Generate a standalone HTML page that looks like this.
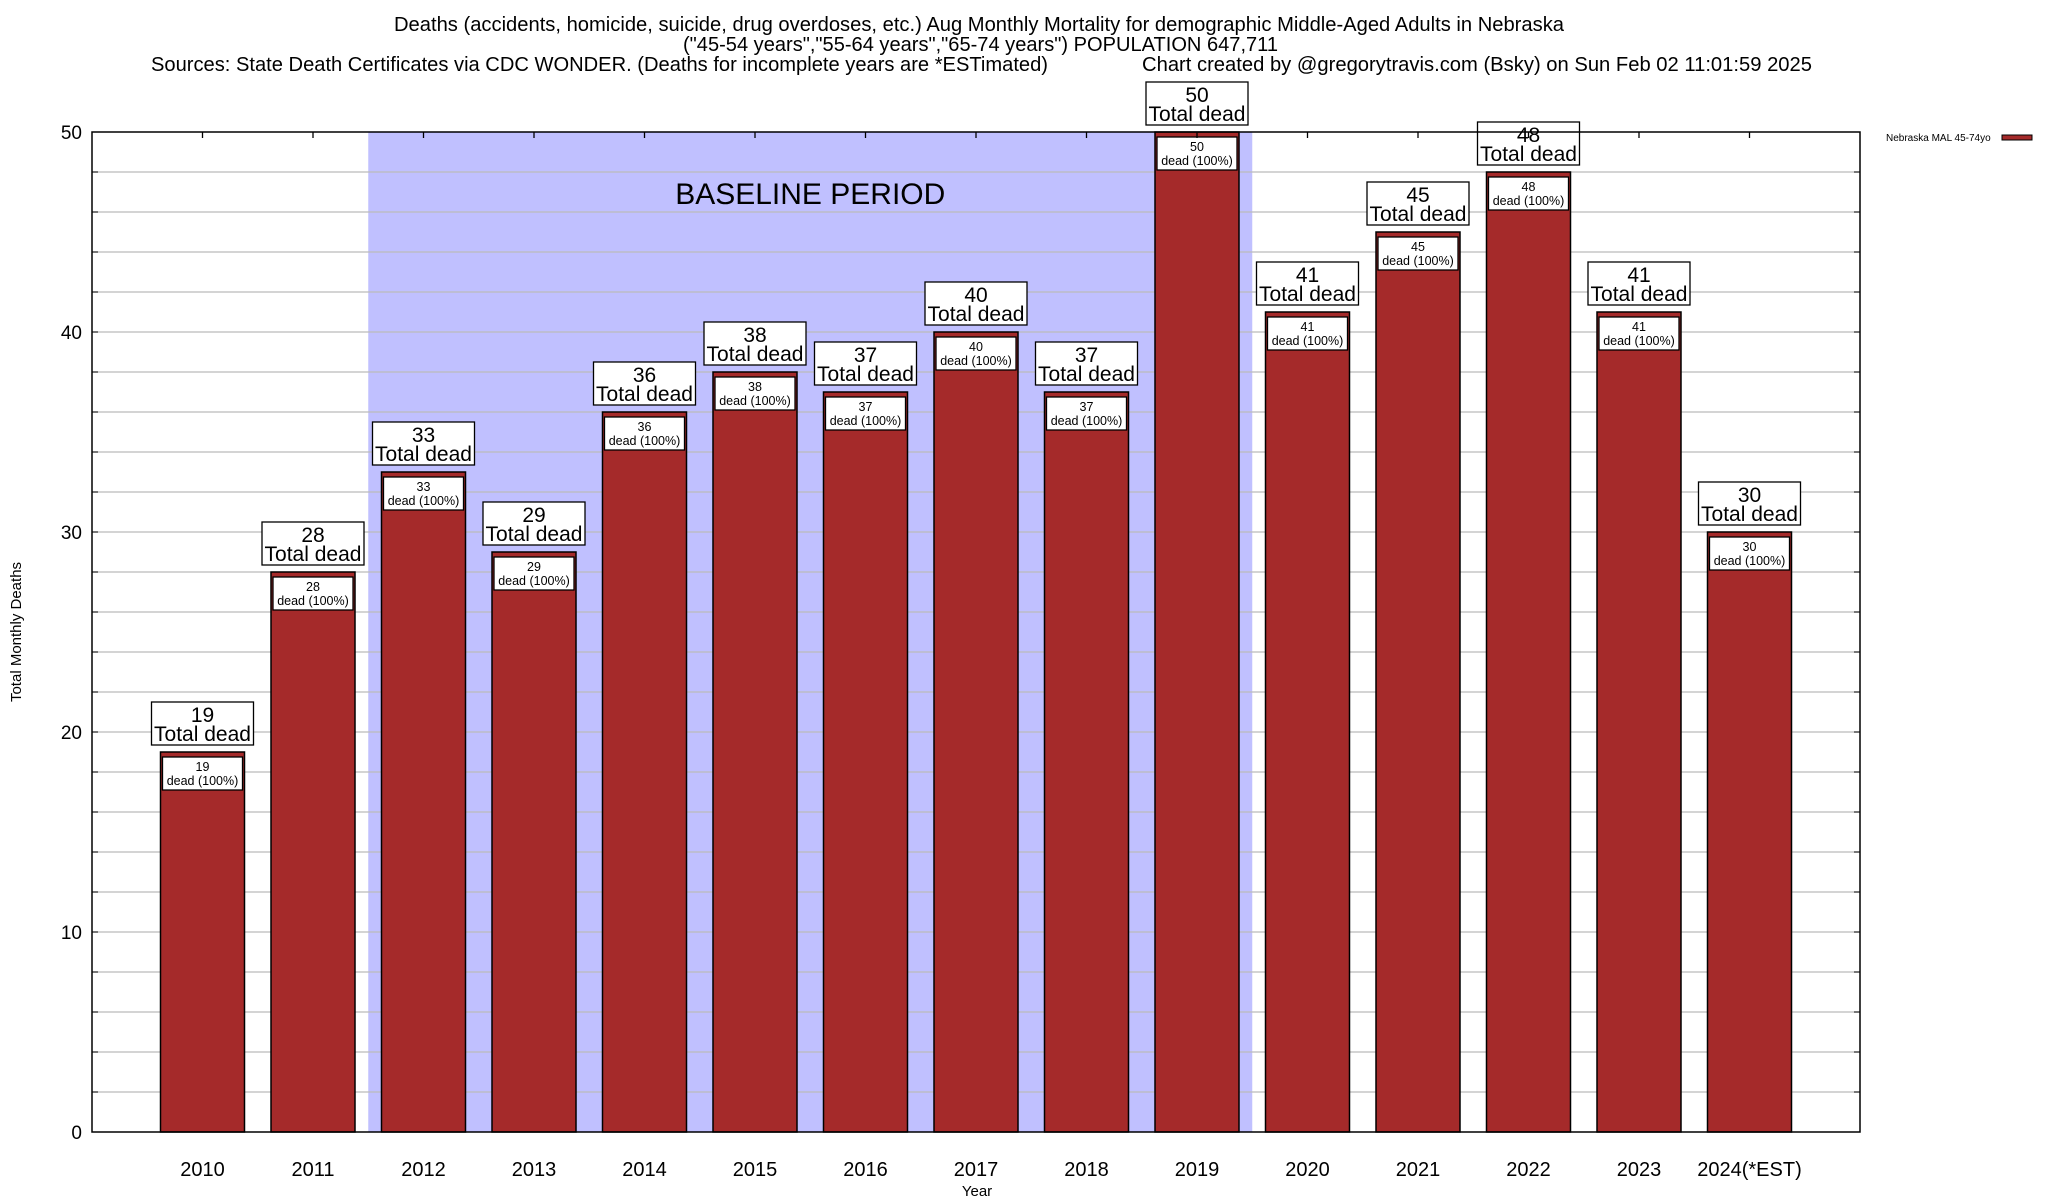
<!DOCTYPE html>
<html><head><meta charset="utf-8"><style>
html,body{margin:0;padding:0;background:#fff}
svg{display:block;font-family:"Liberation Sans",sans-serif}
</style></head><body>
<svg id="chart" width="2048" height="1200" viewBox="0 0 2048 1200" xmlns="http://www.w3.org/2000/svg">
<g font-size="20" fill="#000">
<text x="394" y="31" textLength="1170" lengthAdjust="spacingAndGlyphs">Deaths (accidents, homicide, suicide, drug overdoses, etc.) Aug Monthly Mortality for demographic Middle-Aged Adults in Nebraska</text>
<text x="683" y="51" textLength="595" lengthAdjust="spacingAndGlyphs">("45-54 years","55-64 years","65-74 years") POPULATION 647,711</text>
<text x="151" y="71" textLength="897" lengthAdjust="spacingAndGlyphs">Sources: State Death Certificates via CDC WONDER. (Deaths for incomplete years are *ESTimated)</text>
<text x="1142" y="71" textLength="670" lengthAdjust="spacingAndGlyphs">Chart created by @gregorytravis.com (Bsky) on Sun Feb 02 11:01:59 2025</text>
</g>
<g id="plot"></g>
</svg>
<script>
const categories=["2010","2011","2012","2013","2014","2015","2016","2017","2018","2019","2020","2021","2022","2023","2024(*EST)"];
const deaths=[19,28,33,29,36,38,37,40,37,50,41,45,48,41,30];
const yTicks=[0,10,20,30,40,50];
const baselineRange=[1.5,9.5];

const NS="http://www.w3.org/2000/svg";
const L=92,R=1860,T=132,B=1132;
const xs=u=>L+(u+1)*(R-L)/16;
const ys=v=>B-v*(B-T)/50;
const g=document.getElementById('plot');
function mk(tag,attrs,parent,text){const e=document.createElementNS(NS,tag);for(const k in attrs)e.setAttribute(k,attrs[k]);if(text!==undefined)e.textContent=text;(parent||g).appendChild(e);return e;}

const sh=mk('rect',{x:xs(baselineRange[0]),y:T,width:xs(baselineRange[1])-xs(baselineRange[0]),height:B-T,fill:'#c0c0ff'});


const bt=mk('text',{x:(xs(baselineRange[0])+xs(baselineRange[1]))/2,y:204,'font-size':30,'text-anchor':'middle'},g,'BASELINE PERIOD');



for(let v=2;v<50;v+=2){
 const gl=mk('line',{x1:L,x2:R,y1:ys(v),y2:ys(v),stroke:'#bbb','stroke-width':1.3});
 
 
 mk('line',{x1:L,x2:L+6,y1:ys(v),y2:ys(v),stroke:'#000','stroke-width':1});
 mk('line',{x1:R-6,x2:R,y1:ys(v),y2:ys(v),stroke:'#000','stroke-width':1});
}
yTicks.forEach(v=>{
 const t=mk('text',{x:L-10,y:ys(v)+7,'font-size':19,'text-anchor':'end'},g,String(v));
 
 
});

categories.forEach((c,i)=>{
 const v=deaths[i],cx=xs(i),w=84,top=ys(v);
 const bar=mk('rect',{x:cx-w/2,y:top,width:w,height:B-top,fill:'#a52a2a',stroke:'#000','stroke-width':1.5});
 
 
 const ib=mk('rect',{x:cx-40,y:top+5,width:80,height:33,fill:'#fff',stroke:'#000','stroke-width':1.3});
 
 
 const t1=mk('text',{x:cx,y:top+19,'font-size':12.5,'text-anchor':'middle'},g,String(v));
 
 
 const t2=mk('text',{x:cx,y:top+33,'font-size':12.5,'text-anchor':'middle'},g,'dead (100%)');
 
 
 const ob=mk('rect',{x:cx-51,y:top-50,width:102,height:43,fill:'#fff',stroke:'#000','stroke-width':1.3});
 
 
 const t3=mk('text',{x:cx,y:top-30,'font-size':21,'text-anchor':'middle'},g,String(v));
 
 
 const t4=mk('text',{x:cx,y:top-11,'font-size':21,'text-anchor':'middle'},g,'Total dead');
 
 
 const xl=mk('text',{x:cx,y:1176,'font-size':20,'text-anchor':'middle'},g,c);
 
 
 mk('line',{x1:cx,x2:cx,y1:T,y2:T+6,stroke:'#000','stroke-width':1.3});
});

const fr=mk('rect',{x:L,y:T,width:R-L,height:B-T,fill:'none',stroke:'#000','stroke-width':1.5});



const yt=mk('text',{x:0,y:0,'font-size':15,'text-anchor':'middle',transform:'translate(21,632) rotate(-90)'},g,'Total Monthly Deaths');


const xt=mk('text',{x:977,y:1196,'font-size':15,'text-anchor':'middle'},g,'Year');



const lg=mk('text',{x:1886,y:141,'font-size':10},g,'Nebraska MAL 45-74yo');


const ls=mk('rect',{x:2002,y:135,width:30,height:5,fill:'#a52a2a',stroke:'#000','stroke-width':1});


</script>
</body></html>
